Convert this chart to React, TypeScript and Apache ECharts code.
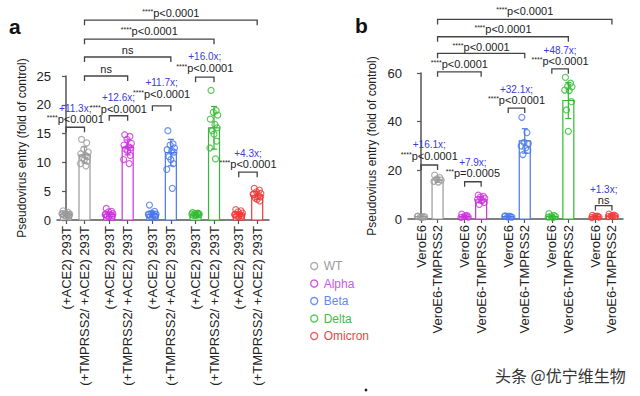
import React, { useEffect, useRef } from "react";
import * as echarts from "echarts";

const FONT = '"Liberation Sans", Arial, Helvetica, sans-serif';

// ---------- data ----------
const variants = ["WT", "Alpha", "Beta", "Delta", "Omicron"];
const colors = ["#9a9a9a", "#cc33dd", "#4a78e8", "#33bb33", "#ee3a3a"];
const legendColors = ["#9a9a9a", "#cc55ee", "#6688ee", "#44bb44", "#ee4444"];

const categoriesA = [
  "(+ACE2) 293T", "(+TMPRSS2/ +ACE2) 293T",
  "(+ACE2) 293T", "(+TMPRSS2/ +ACE2) 293T",
  "(+ACE2) 293T", "(+TMPRSS2/ +ACE2) 293T",
  "(+ACE2) 293T", "(+TMPRSS2/ +ACE2) 293T",
  "(+ACE2) 293T", "(+TMPRSS2/ +ACE2) 293T",
];
const categoriesB = [
  "VeroE6", "VeroE6-TMPRSS2",
  "VeroE6", "VeroE6-TMPRSS2",
  "VeroE6", "VeroE6-TMPRSS2",
  "VeroE6", "VeroE6-TMPRSS2",
  "VeroE6", "VeroE6-TMPRSS2",
];
// axis positions of the categories (pairs are grouped)
const xPosA = [0, 1, 2.34, 3.34, 4.68, 5.68, 7.02, 8.02, 9.36, 10.36];
const xPosB = [0, 1, 2.64, 3.64, 5.28, 6.28, 7.92, 8.92, 10.56, 11.56];

const barsA = [1.0, 11.3, 1.0, 12.6, 1.0, 11.7, 1.0, 16.0, 1.0, 4.3];
const sdA = [0.3, 1.4, 0.4, 1.3, 0.5, 2.3, 0.2, 3.7, 0.4, 0.7];
const pointsA = [
  [1.6, 1.3, 1.2, 1.0, 1.0, 0.9, 0.8, 0.8, 0.7, 0.6, 1.1, 0.9],
  [14.0, 13.4, 12.3, 11.8, 11.5, 11.2, 11.0, 10.8, 10.5, 10.2, 9.8, 9.4],
  [2.0, 1.5, 1.4, 1.1, 1.0, 0.9, 0.8, 0.7, 0.6, 0.5, 0.9],
  [14.8, 14.5, 14.0, 13.3, 13.0, 12.7, 12.5, 12.3, 12.0, 11.2, 10.5, 9.8],
  [2.6, 1.5, 1.2, 1.0, 0.9, 0.8, 0.7, 0.6, 0.5, 0.6, 1.0],
  [15.5, 13.2, 13.0, 12.5, 12.2, 12.0, 11.8, 11.0, 10.5, 9.8, 8.8, 5.5],
  [1.3, 1.2, 1.1, 1.0, 1.0, 0.9, 0.9, 0.8, 0.8, 1.1],
  [22.5, 19.0, 18.7, 18.2, 17.5, 16.6, 16.0, 15.5, 14.9, 13.7, 12.5, 10.6],
  [1.8, 1.6, 1.4, 1.2, 1.0, 0.9, 0.8, 0.7, 0.6, 0.5, 0.9],
  [5.5, 5.2, 4.9, 4.6, 4.4, 4.2, 4.0, 3.8, 3.6, 3.3, 4.5],
];

const barsB = [1.0, 16.1, 1.0, 7.9, 1.0, 32.1, 1.0, 48.7, 1.0, 1.3];
const sdB = [0.2, 1.0, 0.5, 1.3, 0.2, 5.0, 0.5, 7.4, 0.4, 0.5];
const pointsB = [
  [1.2, 1.0, 0.8, 0.9, 1.1, 0.7],
  [18.0, 17.0, 16.5, 16.0, 15.5, 15.2],
  [2.0, 1.5, 1.0, 0.8, 0.7, 1.2],
  [9.8, 9.3, 9.0, 8.5, 8.0, 7.5, 6.8, 6.0],
  [1.3, 1.0, 0.9, 0.8, 1.1, 1.2],
  [41.8, 35.5, 31.5, 31.0, 30.0, 29.2, 28.2, 26.5],
  [2.2, 1.5, 1.2, 1.0, 0.8, 0.6],
  [58.2, 55.8, 54.5, 54.3, 53.0, 52.8, 48.2, 44.8, 36.0],
  [1.5, 1.2, 1.0, 0.8, 0.6, 1.1],
  [2.0, 1.6, 1.3, 1.2, 1.0, 1.4],
];

// significance brackets: [from category, to category, bracket level, label level]
const bracketsA = [
  [1, 9, 34.7, 35.9], [1, 7, 31.4, 32.8], [1, 5, 28.3, 29.5], [1, 3, 25.0, 26.2],
  [0, 1, 16.1, 17.5], [2, 3, 18.1, 19.3], [4, 5, 19.8, 21.9], [6, 7, 24.8, 26.4], [8, 9, 8.3, 9.7],
];
const bracketTextA = [
  "****p<0.0001", "****p<0.0001", "ns", "ns",
  "****p<0.0001", "****p<0.0001", "****p<0.0001", "****p<0.0001", "****p<0.0001",
];
const foldA = ["", "", "", "", "+11.3x;", "+12.6x;", "+11.7x;", "+16.0x;", "+4.3x;"];

const bracketsB = [
  [1, 9, 82.0, 85.5], [1, 7, 74.9, 78.1], [1, 5, 68.1, 70.8], [1, 3, 60.5, 63.6],
  [0, 1, 22.2, 26.0], [2, 3, 15.3, 18.8], [4, 5, 45.6, 48.9], [6, 7, 61.7, 64.9], [8, 9, 5.5, 7.8],
];
const bracketTextB = [
  "****p<0.0001", "****p<0.0001", "****p<0.0001", "****p<0.0001",
  "****p<0.0001", "***p=0.0005", "****p<0.0001", "****p<0.0001", "ns",
];
const foldB = ["", "", "", "", "+16.1x;", "+7.9x;", "+32.1x;", "+48.7x;", "+1.3x;"];

const yTitle = "Pseudovirus entry (fold of control)";

// ---------- styling constants ----------
const JITTER = [-0.16, 0.12, -0.04, 0.2, -0.2, 0.05, 0.17, -0.1, 0.0, 0.14, -0.22, 0.08];
const AX = "#555";
const BAR_W = 11;

function buildPanel(p: number, xs: number[], cats: string[], bars: number[], sds: number[], pts: number[][],
  brackets: number[][], btext: string[], fold: string[]) {
  const series: any[] = [];
  // bars
  series.push({
    type: "custom", xAxisIndex: p, yAxisIndex: p, clip: false, silent: true, z: 1,
    data: xs.map((x, i) => [x, bars[i], i]),
    renderItem: (params: any, api: any) => {
      const x = api.value(0), v = api.value(1), i = api.value(2);
      const p0 = api.coord([x, 0]);
      const p1 = api.coord([x, v]);
      return {
        type: "rect",
        shape: { x: p0[0] - BAR_W / 2, y: p1[1], width: BAR_W, height: p0[1] - p1[1] },
        style: { fill: "#fff", stroke: colors[Math.floor(i / 2)], lineWidth: 1.2 },
      };
    },
  });
  // points
  variants.forEach((name, v) => {
    const data: number[][] = [];
    [2 * v, 2 * v + 1].forEach((ci) => {
      pts[ci].forEach((y, k) => data.push([xs[ci] + JITTER[k % JITTER.length] * (p === 0 ? 1 : 1.1), y]));
    });
    series.push({
      type: "scatter", name, xAxisIndex: p, yAxisIndex: p, silent: true, z: 3,
      symbol: "circle", symbolSize: 6,
      itemStyle: { color: "rgba(255,255,255,0)", borderColor: colors[v], borderWidth: 1.2 },
      data,
    });
  });
  // error bars
  series.push({
    type: "custom", xAxisIndex: p, yAxisIndex: p, clip: false, silent: true, z: 4,
    data: xs.map((x, i) => [x, bars[i], sds[i], i]),
    renderItem: (params: any, api: any) => {
      const x = api.value(0), v = api.value(1), sd = api.value(2), i = api.value(3);
      const hi = api.coord([x, v + sd]);
      const lo = api.coord([x, Math.max(0, v - sd)]);
      const c = colors[Math.floor(i / 2)];
      const st = { stroke: c, lineWidth: 1.2 };
      return {
        type: "group",
        children: [
          { type: "line", shape: { x1: hi[0], y1: hi[1], x2: lo[0], y2: lo[1] }, style: st },
          { type: "line", shape: { x1: hi[0] - 3, y1: hi[1], x2: hi[0] + 3, y2: hi[1] }, style: st },
          { type: "line", shape: { x1: lo[0] - 3, y1: lo[1], x2: lo[0] + 3, y2: lo[1] }, style: st },
        ],
      };
    },
  });
  // brackets
  series.push({
    type: "custom", xAxisIndex: p, yAxisIndex: p, clip: false, silent: true, z: 5,
    data: brackets.map((b, k) => [xs[b[0]], xs[b[1]], b[2], b[3], k]),
    renderItem: (params: any, api: any) => {
      const x1 = api.value(0), x2 = api.value(1), lv = api.value(2), tl = api.value(3), k = api.value(4);
      const a = api.coord([x1, lv]);
      const b = api.coord([x2, lv]);
      const t = api.coord([x1, tl]);
      const cx = (a[0] + b[0]) / 2;
      const raw = btext[k];
      const m = raw.match(/^(\**)(.*)$/) || ["", "", raw];
      const txt = (m[1] ? `{s|${m[1]}}` : "") + `{p|${m[2]}}`;
      const children: any[] = [
        {
          type: "polyline",
          shape: { points: [[a[0], a[1] + 5], [a[0], a[1]], [b[0], b[1]], [b[0], b[1] + 5]] },
          style: { fill: "none", stroke: "#444", lineWidth: 1.3 },
        },
        {
          type: "text", x: cx, y: t[1],
          style: {
            text: txt, align: "center", verticalAlign: "middle",
            textAlign: "center", textVerticalAlign: "middle",
            rich: {
              s: { fontSize: 7, fill: "#222", fontFamily: FONT, lineHeight: 11, padding: [0, 0, 3, 0] },
              p: { fontSize: 11, fill: "#222", fontFamily: FONT, lineHeight: 11 },
            },
          },
        },
      ];
      if (fold[k]) {
        children.push({
          type: "text", x: cx, y: t[1] - 11,
          style: {
            text: fold[k], fill: "#3a3ae0", fontSize: 10, fontFamily: FONT,
            align: "center", verticalAlign: "middle", textAlign: "center", textVerticalAlign: "middle",
          },
        });
      }
      return { type: "group", children };
    },
  });
  return series;
}

function mkX(p: number, xs: number[], cats: string[], min: number, max: number) {
  return {
    type: "value", gridIndex: p, min, max,
    splitLine: { show: false },
    axisLine: { show: true, onZero: false, lineStyle: { color: AX, width: 1.5 } },
    axisTick: { show: true, customValues: xs, length: 4, lineStyle: { color: AX, width: 1.2 } },
    axisLabel: {
      show: true, customValues: xs, rotate: 90, fontSize: 13, color: "#222", fontFamily: FONT, margin: 6,
      formatter: (v: number) => {
        const i = xs.findIndex((x) => Math.abs(x - v) < 1e-6);
        return i >= 0 ? cats[i] : "";
      },
    },
  };
}

function mkY(p: number, max: number, interval: number, gap: number) {
  return {
    type: "value", gridIndex: p, min: 0, max, interval,
    name: yTitle, nameLocation: "middle", nameRotate: 90, nameGap: gap,
    nameTextStyle: { fontSize: 12, color: "#222", fontFamily: FONT },
    splitLine: { show: false },
    axisLine: { show: true, lineStyle: { color: AX, width: 1.5 } },
    axisTick: { show: true, length: 4, lineStyle: { color: AX, width: 1.2 } },
    axisLabel: { fontSize: 13, color: "#222", fontFamily: FONT, margin: 6 },
  };
}

export default function App() {
  const ref = useRef<HTMLDivElement>(null);
  useEffect(() => {
    if (!ref.current) return;
    const chart = echarts.init(ref.current, undefined, { renderer: "svg" });
    const option: any = {
      animation: false,
      backgroundColor: "#fff",
      grid: [
        { left: 57, top: 76, width: 212, height: 144 },
        { left: 408, top: 73, width: 215, height: 146 },
      ],
      xAxis: [mkX(0, xPosA, categoriesA, -0.49, 11.0), mkX(1, xPosB, categoriesB, -0.79, 12.23)],
      yAxis: [mkY(0, 25, 5, 29), mkY(1, 60, 20, 30)],
      legend: {
        orient: "vertical", left: 305, top: 254, itemWidth: 7, itemHeight: 7, itemGap: 3.5,
        icon: "circle", selectedMode: false,
        textStyle: { fontSize: 12, fontFamily: FONT, lineHeight: 14, padding: [0, 0, 0, 1] },
        data: variants.map((n, i) => ({
          name: n,
          itemStyle: { color: "rgba(255,255,255,0)", borderColor: colors[i], borderWidth: 1.4 },
          textStyle: { color: legendColors[i] },
        })),
      },
      graphic: [
        { type: "text", left: 9, top: 16, style: { text: "a", fontSize: 21, fontWeight: "bold", fontFamily: FONT, fill: "#111" } },
        { type: "text", left: 355, top: 15, style: { text: "b", fontSize: 21, fontWeight: "bold", fontFamily: FONT, fill: "#111" } },
        { type: "circle", shape: { cx: 366, cy: 390, r: 1.4 }, style: { fill: "#222" } },
        {
          type: "text", left: 494, top: 366,
          style: {
            text: "头条 @优宁维生物", fontSize: 16, fontFamily: '"Noto Sans CJK SC", sans-serif',
            fill: "#333", stroke: "#fff", lineWidth: 2,
          },
        },
      ],
      series: [
        ...buildPanel(0, xPosA, categoriesA, barsA, sdA, pointsA, bracketsA, bracketTextA, foldA),
        ...buildPanel(1, xPosB, categoriesB, barsB, sdB, pointsB, bracketsB, bracketTextB, foldB),
      ],
    };
    chart.setOption(option);
    return () => chart.dispose();
  }, []);
  return <div ref={ref} style={{ position: "fixed", left: 0, top: 0, width: 640, height: 396 }} />;
}
